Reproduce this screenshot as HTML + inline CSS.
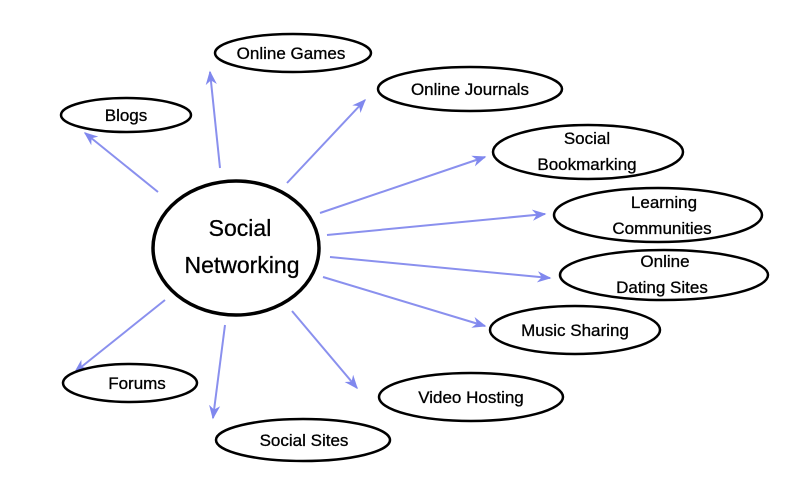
<!DOCTYPE html>
<html><head><style>body{margin:0;background:#fff}svg{display:block}</style></head>
<body>
<svg width="800" height="499" viewBox="0 0 800 499" xmlns="http://www.w3.org/2000/svg" font-family="Liberation Sans, sans-serif">
<defs><marker id="a" viewBox="0 0 10 10" refX="9" refY="5" markerWidth="7" markerHeight="7" orient="auto"><path d="M0,1 L10,5 L0,9 L3,5z" fill="#8088ee"/></marker></defs>
<g stroke="#8a90ee" stroke-width="2" marker-end="url(#a)">
<line x1="158" y1="192" x2="85" y2="133"/>
<line x1="220" y1="168" x2="210" y2="72"/>
<line x1="287" y1="183" x2="365" y2="100"/>
<line x1="320" y1="213" x2="485" y2="157"/>
<line x1="327" y1="235" x2="545" y2="214"/>
<line x1="330" y1="257" x2="550" y2="278"/>
<line x1="323" y1="277" x2="485" y2="326"/>
<line x1="292" y1="311" x2="357" y2="388"/>
<line x1="225" y1="325" x2="213" y2="418"/>
<line x1="165" y1="300" x2="75" y2="372"/>
</g>
<g fill="none" stroke="#000" stroke-width="2.5">
<ellipse cx="236" cy="248" rx="83" ry="67" stroke-width="3.5"/>
<ellipse cx="293" cy="53" rx="78" ry="19"/>
<ellipse cx="126" cy="115" rx="65" ry="17"/>
<ellipse cx="470" cy="89" rx="92" ry="22"/>
<ellipse cx="588" cy="152" rx="95" ry="27"/>
<ellipse cx="658" cy="215" rx="104" ry="27"/>
<ellipse cx="664" cy="275" rx="104" ry="25"/>
<ellipse cx="575" cy="330" rx="85" ry="24"/>
<ellipse cx="471" cy="397" rx="92" ry="24"/>
<ellipse cx="130" cy="383" rx="67" ry="19"/>
<ellipse cx="303" cy="440" rx="87" ry="21"/>
</g>
<g text-anchor="middle" font-size="17" fill="#000" stroke="#000" stroke-width="0.3">
<text x="240" y="236" font-size="23">Social</text>
<text x="242" y="273" font-size="23">Networking</text>
<text x="291" y="59">Online Games</text>
<text x="126" y="121">Blogs</text>
<text x="470" y="95">Online Journals</text>
<text x="587" y="144">Social</text>
<text x="587" y="170">Bookmarking</text>
<text x="664" y="208">Learning</text>
<text x="662" y="234">Communities</text>
<text x="665" y="267">Online</text>
<text x="662" y="293">Dating Sites</text>
<text x="575" y="336">Music Sharing</text>
<text x="471" y="403">Video Hosting</text>
<text x="137" y="389">Forums</text>
<text x="304" y="446">Social Sites</text>
</g>
</svg>
</body></html>
